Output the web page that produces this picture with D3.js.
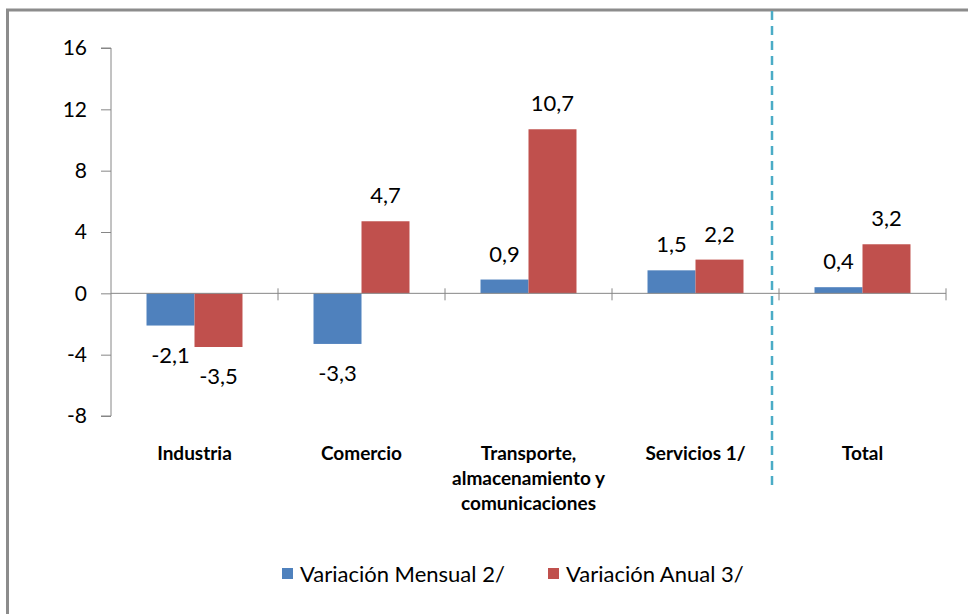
<!DOCTYPE html>
<html><head><meta charset="utf-8">
<script src="https://cdn.jsdelivr.net/npm/d3@7"></script>
<style>body{margin:0;background:#fff}svg{display:block}</style>
</head><body>
<svg id="c" width="968" height="614"></svg>
<script>
const categories = [["Industria"], ["Comercio"], ["Transporte,", "almacenamiento y", "comunicaciones"], ["Servicios 1/"], ["Total"]];
const mensual = [-2.1, -3.3, 0.9, 1.5, 0.4];
const anual = [-3.5, 4.7, 10.7, 2.2, 3.2];
const seriesNames = ["Variación Mensual 2/", "Variación Anual 3/"];
const colors = ["#4F81BD", "#C0504D"];
const yTicks = [-8, -4, 0, 4, 8, 12, 16];

const svg = d3.select("#c");
const font = "Lato, 'Open Sans', sans-serif";

// frame
svg.append("path").attr("d", "M7.5,614 L7.5,10 L968,10").attr("fill", "none").attr("stroke", "#8c8c8c").attr("stroke-width", 3);

const y = d3.scaleLinear().domain([-8, 16]).range([416, 48]);
const x = d3.scaleBand().domain(d3.range(categories.length)).range([111, 946]);
const inner = d3.scaleBand().domain([0, 1]).range([0, x.bandwidth()]).paddingOuter(0.74).paddingInner(0);

// y axis
const yAxis = d3.axisLeft(y).tickValues(yTicks).tickSize(10).tickPadding(14).tickFormat(d => d);
const ga = svg.append("g").attr("transform", "translate(111,0)").call(yAxis);
ga.select(".domain").attr("stroke", "#868686").attr("d", `M-10,${y(16)}H0V${y(-8)}H-10`);
ga.selectAll(".tick line").attr("stroke", "#868686");
ga.selectAll(".tick text").attr("font-family", font).attr("font-size", 21).attr("fill", "#000");

// bars
const data = categories.map((c, i) => [mensual[i], anual[i]]);
data.forEach((vals, i) => {
  vals.forEach((v, s) => {
    const bx = x(i) + inner(s);
    svg.append("rect").attr("x", bx).attr("width", inner.bandwidth())
      .attr("y", Math.min(y(v), y(0))).attr("height", Math.abs(y(v) - y(0)))
      .attr("fill", colors[s]);
    svg.append("text").attr("x", bx + inner.bandwidth() / 2)
      .attr("y", v >= 0 ? y(v) - 18 : y(v) + 37)
      .attr("text-anchor", "middle").attr("font-family", font).attr("font-size", 22).attr("fill", "#000")
      .text(d3.format(".1f")(v).replace(".", ",").replace("−", "-"));
  });
});

// x axis
svg.append("line").attr("x1", 111).attr("x2", 946).attr("y1", y(0)).attr("y2", y(0)).attr("stroke", "#868686");
d3.range(1, categories.length + 1).forEach(i => {
  const tx = i < categories.length ? x(i) : x.range()[1];
  svg.append("line").attr("x1", tx).attr("x2", tx).attr("y1", y(0) - 5).attr("y2", y(0) + 7).attr("stroke", "#868686");
});

// category labels
categories.forEach((lines, i) => {
  const t = svg.append("text").attr("text-anchor", "middle").attr("font-family", font)
    .attr("font-size", 19).attr("font-weight", "bold").attr("fill", "#000");
  lines.forEach((l, j) => t.append("tspan").attr("x", x(i) + x.bandwidth() / 2).attr("y", 460 + j * 25).text(l));
});

// dashed separator
svg.append("line").attr("x1", 772).attr("x2", 772).attr("y1", 11).attr("y2", 490)
  .attr("stroke", "#4BACC6").attr("stroke-width", 2.5).attr("stroke-dasharray", "9,6");

// legend
const legX = [282, 548];
seriesNames.forEach((n, s) => {
  svg.append("rect").attr("x", legX[s]).attr("y", 568).attr("width", 11).attr("height", 11).attr("fill", colors[s]);
  svg.append("text").attr("x", legX[s] + 18).attr("y", 582).attr("font-family", font).attr("font-size", 22).attr("fill", "#000").text(n);
});
</script>
</body></html>
